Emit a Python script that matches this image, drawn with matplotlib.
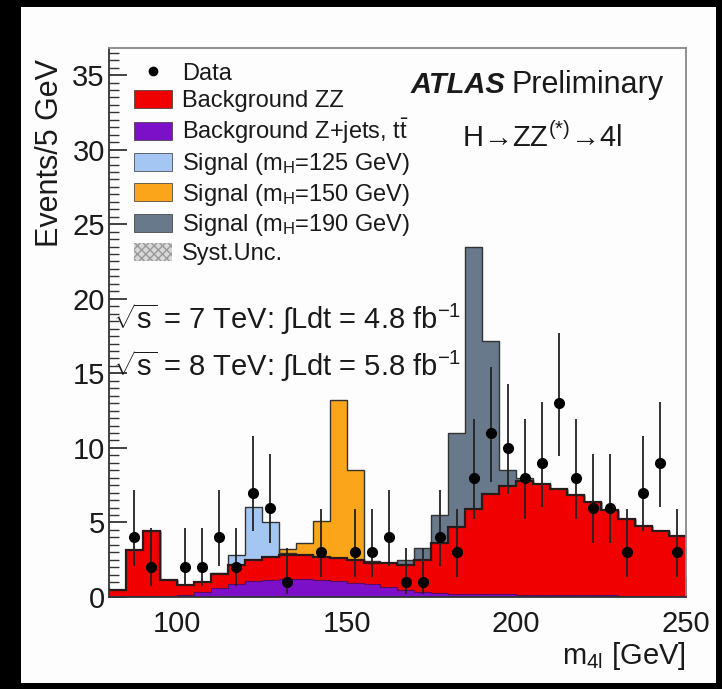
import numpy as np
import matplotlib
matplotlib.use("Agg")
import matplotlib.pyplot as plt
from matplotlib.patches import Patch, Rectangle
from matplotlib.lines import Line2D
from matplotlib.ticker import MultipleLocator

plt.rcParams['font.family'] = ['Liberation Sans', 'DejaVu Sans']
plt.rcParams['mathtext.fontset'] = 'custom'
plt.rcParams['mathtext.rm'] = 'Liberation Sans'
plt.rcParams['mathtext.it'] = 'Liberation Sans:italic'
plt.rcParams['mathtext.bf'] = 'Liberation Sans:bold'

# 5 GeV bins from 80 to 250 GeV
bin_edges = np.arange(80, 255, 5)

# observed events per bin
data_counts = [0, 4, 2, 0, 2, 2, 4, 2, 7, 6, 1, 0, 3, 0, 3, 3, 4, 1, 1, 4,
               3, 8, 11, 10, 8, 9, 13, 8, 6, 6, 3, 7, 9, 3]

# 68% Poisson (Garwood) interval bounds, indexed by count
poisson_lo = [0, 0.17, 0.71, 1.37, 2.09, 2.84, 3.62, 4.42, 5.23, 6.06, 6.89,
              7.73, 8.58, 9.44]
poisson_hi = [1.84, 3.30, 4.64, 5.92, 7.16, 8.38, 9.58, 10.77, 11.95, 13.11,
              14.27, 15.42, 16.56, 17.70]

# Z+jets, ttbar background
bkg_zjets = [0.05, 0.05, 0.05, 0.05, 0.15, 0.35, 0.6, 0.85, 1.05, 1.15, 1.2,
             1.2, 1.15, 1.05, 0.95, 0.85, 0.7, 0.5, 0.35, 0.25, 0.2, 0.2, 0.18,
             0.17, 0.16, 0.15, 0.14, 0.13, 0.12, 0.11, 0.1, 0.1, 0.09, 0.09]

# total background (ZZ + Z+jets)
bkg_total = [0.5, 3.15, 4.4, 1.15, 0.8, 1.0, 1.55, 2.15, 2.45, 2.65, 2.8, 2.8,
             2.7, 2.6, 2.45, 2.3, 2.25, 2.15, 2.5, 3.6, 4.7, 5.9, 6.9, 7.45,
             7.8, 7.6, 7.25, 6.85, 6.35, 5.85, 5.2, 4.75, 4.45, 4.1]

# signal expectations on top of background
sig_125 = [0, 0, 0, 0, 0, 0, 0.05, 0.65, 3.6, 2.35, 0.15, 0, 0, 0, 0, 0, 0, 0,
           0, 0, 0, 0, 0, 0, 0, 0, 0, 0, 0, 0, 0, 0, 0, 0]
sig_150 = [0, 0, 0, 0, 0, 0, 0, 0, 0, 0, 0.4, 0.8, 2.4, 10.6, 6.05, 0.1, 0, 0,
           0, 0, 0, 0, 0, 0, 0, 0, 0, 0, 0, 0, 0, 0, 0, 0]
sig_190 = [0, 0, 0, 0, 0, 0, 0, 0, 0, 0, 0, 0, 0, 0, 0, 0, 0, 0.3, 0.8, 1.9,
           6.3, 17.6, 10.3, 1.05, 0.2, 0, 0, 0, 0, 0, 0, 0, 0, 0]

labels = ["Data", "Background ZZ", r"Background Z+jets, $\mathrm{t}\bar{\mathrm{t}}$",
          r"Signal (m$_{\mathrm{H}}$=125 GeV)", r"Signal (m$_{\mathrm{H}}$=150 GeV)",
          r"Signal (m$_{\mathrm{H}}$=190 GeV)", "Syst.Unc."]

c_zz = "#f00000"
c_zj = "#7b10c8"
c_125 = "#a3c6f2"
c_150 = "#fba51a"
c_190 = "#67798a"
c_edge = "#2a1a1a"
c_text = "#1a1a1a"

fig = plt.figure(figsize=(7.22, 6.89), dpi=100)
fig.patch.set_facecolor("black")
fig.patches.append(Rectangle((0.029, 0.008), 0.963, 0.982, transform=fig.transFigure,
                             facecolor="#fdfdfd", edgecolor="none", zorder=-10))
ax = fig.add_axes([0.151, 0.1335, 0.799, 0.7965])
ax.set_facecolor("none")

edges = bin_edges
total = np.array(bkg_total)
zj = np.array(bkg_zjets)

for sig, col in [(sig_125, c_125), (sig_150, c_150), (sig_190, c_190)]:
    ax.stairs(total + np.array(sig), edges, baseline=total, fill=True,
              facecolor=col, edgecolor="none", zorder=2)
    ax.stairs(total + np.array(sig), edges, baseline=None, color="#333333",
              linewidth=1.0, zorder=2.5)

ax.stairs(total, edges, baseline=zj, fill=True, facecolor=c_zz, edgecolor="none", zorder=3)
ax.stairs(total, edges, baseline=None, color=c_edge, linewidth=1.6, zorder=3.5)
ax.stairs(zj, edges, baseline=0, fill=True, facecolor=c_zj, edgecolor="none", zorder=4)
ax.stairs(zj, edges, baseline=None, color="#5a0a60", linewidth=0.8, zorder=4.5)

centers = 0.5 * (edges[:-1] + edges[1:])
counts = np.array(data_counts)
mask = counts > 0
lo = np.array([poisson_lo[n] for n in counts])
hi = np.array([poisson_hi[n] for n in counts])
ax.errorbar(centers[mask], counts[mask],
            yerr=[counts[mask] - lo[mask], hi[mask] - counts[mask]],
            fmt="o", color="black", ecolor="#222222", markersize=7,
            elinewidth=1.3, capsize=0, zorder=6)

ax.set_xlim(80, 250)
ax.set_ylim(0, 36.8)
ax.xaxis.set_major_locator(MultipleLocator(50))
ax.xaxis.set_minor_locator(MultipleLocator(10))
ax.yaxis.set_major_locator(MultipleLocator(5))
ax.yaxis.set_minor_locator(MultipleLocator(0.5))
ax.tick_params(which="both", direction="in", top=False, right=False,
               labelsize=21, color="#333333", labelcolor=c_text, zorder=7)
ax.tick_params(which="major", length=13, width=1.3, pad=3)
ax.tick_params(which="minor", length=7, width=1.0)
ax.tick_params(axis="x", pad=9)
for s in ["left", "bottom"]:
    ax.spines[s].set_color("#333333")
    ax.spines[s].set_linewidth(1.3)
for s in ["top", "right"]:
    ax.spines[s].set_color("#888888")
    ax.spines[s].set_linewidth(1.3)
for s in ax.spines.values():
    s.set_zorder(8)

ax.text(-0.102, 0.98, "Events/5 GeV", rotation=90, ha="center", va="top",
        fontsize=22, color=c_text, transform=ax.transAxes)
ax.text(1.0, -0.107, r"m$_{\mathrm{4l}}$ [GeV]", ha="right", va="center",
        fontsize=21, color=c_text, transform=ax.transAxes)

ax.text(0.522, 0.918, "ATLAS", fontsize=21, fontweight="bold", style="italic",
        ha="left", va="baseline", color=c_text, transform=ax.transAxes)
ax.text(0.698, 0.918, "Preliminary", fontsize=22, ha="left", va="baseline",
        color=c_text, transform=ax.transAxes)
ax.text(0.612, 0.820, r"H→ZZ$^{(*)}$→4l", fontsize=21,
        ha="left", va="baseline", color=c_text, transform=ax.transAxes)

ax.text(0.007, 0.506, r"$\sqrt{\mathrm{s}}$ = 7 TeV: $\int$Ldt = 4.8 fb$^{-1}$",
        fontsize=21, ha="left", va="center", color=c_text, transform=ax.transAxes)
ax.text(0.007, 0.421, r"$\sqrt{\mathrm{s}}$ = 8 TeV: $\int$Ldt = 5.8 fb$^{-1}$",
        fontsize=21, ha="left", va="center", color=c_text, transform=ax.transAxes)

handles = [Line2D([], [], marker="o", color="black", linestyle="none", markersize=6),
           Patch(facecolor=c_zz, edgecolor="#333333", linewidth=0.5),
           Patch(facecolor=c_zj, edgecolor="#333333", linewidth=0.5),
           Patch(facecolor=c_125, edgecolor="#333333", linewidth=0.5),
           Patch(facecolor=c_150, edgecolor="#333333", linewidth=0.5),
           Patch(facecolor=c_190, edgecolor="#333333", linewidth=0.5),
           Patch(facecolor="#d8d8d8", edgecolor="#999999", hatch="xxxx", linewidth=0)]
leg = ax.legend(handles, labels, loc="upper left", bbox_to_anchor=(0.04, 0.978),
                frameon=False, fontsize=17, handlelength=1.6, handleheight=0.8,
                handletextpad=0.4, labelspacing=0.2, borderaxespad=0, borderpad=0.1)
for t in leg.get_texts():
    t.set_color(c_text)
leg.set_zorder(9)

fig.savefig("out.png", dpi=100, facecolor=fig.get_facecolor())
